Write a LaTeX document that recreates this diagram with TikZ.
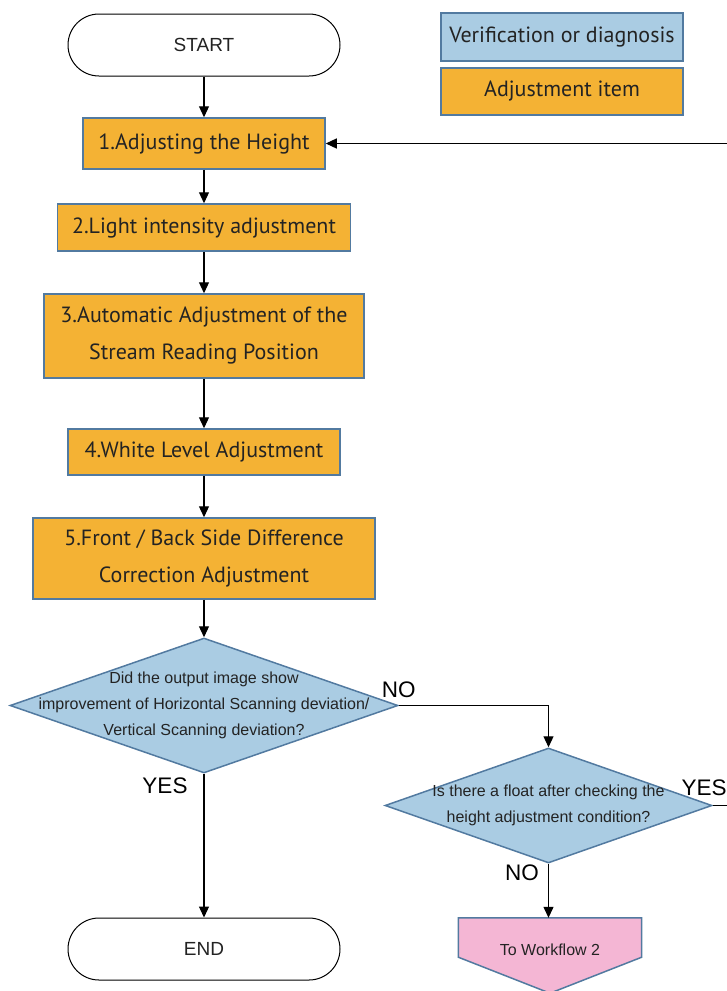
\documentclass[tikz,border=0pt]{standalone}
\usepackage{fontspec}
\setmainfont{Liberation Sans}
\newfontfamily\boxfont{PT Sans}
\usetikzlibrary{shapes.geometric,arrows.meta,positioning}

\definecolor{adjorange}{RGB}{244,178,52}
\definecolor{chkblue}{RGB}{170,204,227}
\definecolor{edgeblue}{RGB}{82,122,160}
\definecolor{wfpink}{RGB}{244,182,212}
\definecolor{txtgray}{RGB}{35,35,35}

\begin{document}
\begin{tikzpicture}[x=1pt,y=-1pt,
  terminal/.style={draw=black, line width=1pt, rounded corners=31pt, minimum width=272pt, minimum height=62pt, inner sep=0pt, font=\fontsize{19}{21}\selectfont, text=txtgray},
  adjbox/.style={draw=edgeblue, line width=1.5pt, fill=adjorange, inner sep=0pt, align=center, font=\boxfont\fontsize{22}{37}\selectfont, text=txtgray},
  chkbox/.style={adjbox, fill=chkblue},
  decision/.style={diamond, draw=edgeblue, line width=1.5pt, fill=chkblue, inner sep=0pt},
  qtext/.style={align=center, font=\fontsize{16}{26}\selectfont, text=txtgray},
  answer/.style={inner sep=0pt, font=\fontsize{22.5}{24}\selectfont},
  flow/.style={-{Triangle[length=11pt,width=10pt]}, line width=1.2pt}
]
  \useasboundingbox (0,0) rectangle (727,991);
  \clip (0,0) rectangle (727,991);

  % legend
  \node[chkbox, minimum width=242pt, minimum height=48pt] (keychk) at (562,37) {Verification or diagnosis};
  \node[adjbox, minimum width=242pt, minimum height=47pt] (keyadj) at (562,91.5) {Adjustment item};

  % main column
  \node[terminal] (start) at (204,45) {START};
  \node[adjbox, minimum width=242pt, minimum height=51pt] (height) at (204,143.5) {1.Adjusting the Height};
  \node[adjbox, minimum width=293pt, minimum height=47pt] (light) at (204,227.5) {2.Light intensity adjustment};
  \node[adjbox, minimum width=320pt, minimum height=84pt] (stream) at (204,336) {3.Automatic Adjustment of the\\Stream Reading Position};
  \node[adjbox, minimum width=272pt, minimum height=46pt] (white) at (204,452) {4.White Level Adjustment};
  \node[adjbox, minimum width=342pt, minimum height=81pt] (frontback) at (204,558.5) {5.Front / Back Side Difference\\Correction Adjustment};

  \node[decision, minimum width=388pt, minimum height=135pt] (improved) at (204,705.5) {};
  \node[qtext] (improvedq) at (improved) {Did the output image show\\improvement of Horizontal Scanning deviation/\\Vertical Scanning deviation?};
  \node[terminal] (end) at (204,949) {END};

  % right branch
  \node[decision, minimum width=327pt, minimum height=115pt] (float) at (548.5,805.5) {};
  \node[qtext] (floatq) at (float) {Is there a float after checking the\\height adjustment condition?};

  \node[minimum width=183pt, minimum height=75pt, inner sep=0pt] (wf2) at (550,955.5) {};
  \draw[draw=edgeblue, fill=wfpink, line width=1.5pt] (wf2.north west) -- (wf2.north east)
    -- ([yshift=36pt]wf2.south east) -- (wf2.south) -- ([yshift=36pt]wf2.south west) -- cycle;
  \node[font=\fontsize{16}{18}\selectfont, text=txtgray] (wf2text) at ([yshift=6pt]wf2.center) {To Workflow 2};

  % connectors
  \draw[flow] (start) -- (height);
  \draw[flow] (height) -- (light);
  \draw[flow] (light) -- (stream);
  \draw[flow] (stream) -- (white);
  \draw[flow] (white) -- (frontback);
  \draw[flow] (frontback) -- (improved);
  \draw[flow] (improved.south) -- (end);
  \draw[flow] (improved.east) -| (float.north);
  \draw[flow] (float.south) -- (float.south |- wf2.north);
  \draw[flow] (float.east) -- ++(40,0) |- (height.east);

  \node[answer, anchor=south west] (no1) at ([xshift=-17pt,yshift=8pt]improved.east) {NO};
  \node[answer] (yes1) at (165,786) {YES};
  \node[answer] (no2) at (522,873) {NO};
  \node[answer, anchor=south east] (yes2) at ([xshift=14pt,yshift=10pt]float.east) {YES};
\end{tikzpicture}
\end{document}
